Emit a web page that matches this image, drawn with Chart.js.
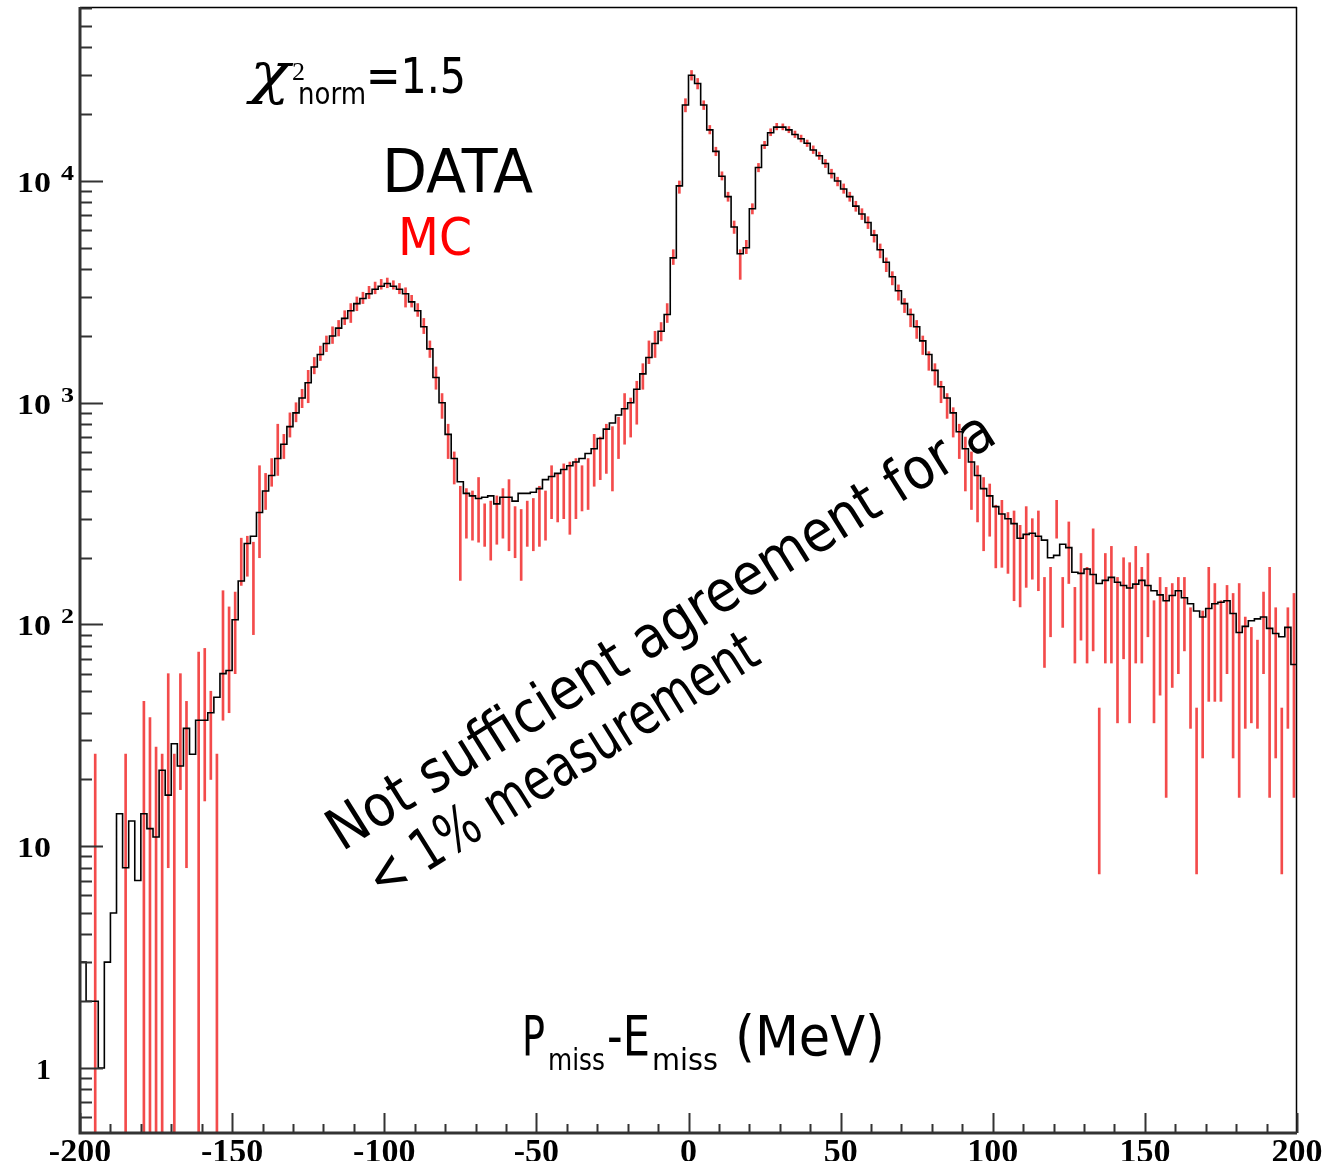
<!DOCTYPE html>
<html>
<head>
<meta charset="utf-8">
<script src="https://cdn.jsdelivr.net/npm/chart.js@4.4.1/dist/chart.umd.min.js"></script>
<style>
  html, body { margin: 0; padding: 0; background: #fff; }
  #wrap { width: 1336px; height: 1161px; }
</style>
</head>
<body>
<div id="wrap"><canvas id="c" width="1336" height="1161"></canvas></div>
<script>
(function () {
  'use strict';

  // histogram binning (MeV)
  var X_MIN = -200;
  var BIN_WIDTH = 2;
  var X_TICK_LABELS = [-200, -150, -100, -50, 0, 50, 100, 150, 200];
  var Y_DECADES = [0, 1, 2, 3, 4];

  // DATA counts per 2 MeV bin, rows of 20 MeV starting at -200
  var DATA_COUNTS = [
    3, 2, 2, 1, 3, 5, 14, 8, 13, 7,
    14, 12, 11, 22, 17, 29, 23, 34, 26, 37,
    37, 40, 47, 60, 62, 105, 157, 232, 250, 320,
    400, 470, 560, 650, 780, 900, 1050, 1230, 1450, 1650,
    1850, 2000, 2170, 2400, 2600, 2800, 2950, 3100, 3250, 3350,
    3450, 3350, 3250, 3100, 2850, 2600, 2200, 1750, 1300, 1000,
    720, 560, 440, 390, 380, 370, 375, 380, 350, 375,
    375, 360, 390, 390, 395, 410, 450, 465, 480, 500,
    520, 540, 560, 590, 620, 690, 760, 810, 880, 940,
    1000, 1150, 1350, 1600, 1850, 2100, 2500, 4500, 9500, 22000,
    30000, 27500, 22000, 17000, 13600, 10500, 8500, 6200, 4700, 5000,
    7500, 11500, 14500, 16500, 17500, 17500, 17000, 16200, 15500, 14800,
    13800, 13000, 12000, 10800, 10000, 9200, 8500, 7700, 7100, 6500,
    5700, 4900, 4300, 3700, 3200, 2800, 2500, 2200, 1900, 1650,
    1400, 1180, 1050, 900, 740, 620, 540, 470, 410, 380,
    340, 315, 300, 285, 245, 255, 258, 250, 240, 200,
    205, 230, 222, 172, 170, 178, 168, 153, 158, 163,
    155, 150, 146, 152, 158, 150, 142, 136, 128, 135,
    142, 132, 124, 115, 108, 118, 124, 126, 128, 112,
    92, 98, 104, 106, 108, 96, 91, 88, 97, 66
  ];

  // MC error bar ends per bin (0.1 = runs off the bottom, null = empty bin)
  var MC_LOW = [
    null, null, 0.1, null, null, null, null, 0.1, null, null,
    0.1, 0.1, 0.1, 0.1, 8, 0.1, 18, 8, null, 0.1,
    16, 20, 0.1, 37, 40, 60, 150, 165, 90, 200,
    330, 420, 470, 560, 700, 820, 950, 1000, 1350, 1550,
    1700, 1850, 2000, 2250, 2300, 2600, 2800, 2950, 3100, 3250,
    3300, 3250, 3100, 2700, 2700, 2450, 2050, 1600, 1150, 850,
    560, 430, 158, 245, 240, 235, 225, 195, 230, 245,
    215, 200, 158, 225, 215, 225, 240, 300, 290, 300,
    255, 300, 325, 330, 420, 450, 480, 400, 560, 650,
    700, 800, 1150, 1500, 1600, 1900, 2300, 4200, 8800, 20500,
    28500, 26000, 21000, 16300, 13000, 10100, 8100, 5800, 3600, 4700,
    7100, 11000, 14000, 16000, 17000, 17000, 16500, 15700, 15000, 14300,
    13300, 12500, 11500, 10300, 9500, 8800, 8100, 7300, 6700, 6100,
    5300, 4500, 3900, 3400, 2900, 2550, 2200, 1950, 1650, 1400,
    1200, 1000, 850, 700, 560, 400, 330, 290, 215, 250,
    180, 181, 170, 128, 120, 147, 160, 142, 64, 88,
    245, 97, 153, 67, 85, 67, 76, 7.5, 67, 67,
    36, 70, 36, 67, 67, 88, 36, 48, 16.6, 52,
    60, 76, 34, 7.5, 25, 45, 45, 45, 60, 25,
    16.6, 34, 36, 34, 60, 16.6, 25, 7.5, 34, 16.6
  ];
  var MC_HIGH = [
    null, null, 26, null, null, null, null, 26, null, null,
    45, 38, 28, 26, 60, 26, 60, 45, null, 75,
    78, 50, 26, 142, 120, 140, 245, 250, 235, 520,
    480, 560, 800, 720, 900, 1000, 1150, 1400, 1600, 1800,
    2000, 2200, 2350, 2600, 2800, 3000, 3150, 3350, 3500, 3600,
    3650, 3550, 3450, 3300, 3050, 2800, 2400, 1900, 1450, 1100,
    800, 600, 420, 410, 400, 460, 350, 360, 380, 410,
    450, 340, 330, 360, 370, 420, 400, 520, 480, 530,
    540, 560, 520, 560, 720, 700, 800, 780, 860, 1100,
    1050, 1250, 1500, 1900, 2100, 2300, 2800, 4900, 10000, 23500,
    31500, 29000, 23000, 17800, 14200, 11000, 8900, 6600, 4900, 5400,
    7900, 12000, 15100, 17200, 18200, 18100, 17600, 16800, 16100, 15300,
    14400, 13500, 12500, 11300, 10400, 9700, 8900, 8100, 7500, 6900,
    6000, 5200, 4500, 3900, 3400, 2950, 2650, 2350, 2000, 1700,
    1500, 1250, 1100, 950, 800, 700, 600, 520, 460, 430,
    345, 363, 320, 325, 280, 340, 300, 325, 163, 181,
    363, 163, 290, 147, 209, 181, 270, 42, 209, 225,
    163, 200, 190, 225, 181, 209, 128, 163, 147, 153,
    163, 163, 119, 42, 115, 181, 153, 128, 150, 138,
    153, 108, 97, 85, 140, 181, 119, 42, 119, 138
  ];

  var SANS = '"DejaVu Sans", sans-serif';
  var SERIF = '"Liberation Serif", serif';

  // step outline: one point at each bin's left edge, plus the closing edge
  var dataPoints = DATA_COUNTS.map(function (v, i) {
    return { x: X_MIN + i * BIN_WIDTH, y: v };
  });
  dataPoints.push({ x: X_MIN + DATA_COUNTS.length * BIN_WIDTH, y: DATA_COUNTS[DATA_COUNTS.length - 1] });

  var mcBars = [];
  MC_LOW.forEach(function (lo, i) {
    if (lo === null || MC_HIGH[i] === null) return;
    mcBars.push({ x: X_MIN + (i + 0.5) * BIN_WIDTH, y: [lo, MC_HIGH[i]] });
  });

  function fitText(ctx, text, x, y, font, width, color) {
    ctx.save();
    ctx.font = font;
    ctx.fillStyle = color || '#000';
    ctx.textBaseline = 'alphabetic';
    ctx.textAlign = 'left';
    var w = ctx.measureText(text).width;
    ctx.translate(x, y);
    ctx.scale(width / w, 1);
    ctx.fillText(text, 0, 0);
    ctx.restore();
  }

  var rootFrame = {
    id: 'rootFrame',
    afterDatasetsDraw: function (chart) {
      var ctx = chart.ctx;
      var a = chart.chartArea;
      var xs = chart.scales.x;
      var ys = chart.scales.y;
      ctx.save();

      // frame
      ctx.strokeStyle = '#000';
      ctx.lineWidth = 1.5;
      ctx.beginPath();
      ctx.moveTo(a.left, a.top + 0.5);
      ctx.lineTo(a.right, a.top + 0.5);
      ctx.moveTo(a.right - 0.5, a.top);
      ctx.lineTo(a.right - 0.5, a.bottom);
      ctx.stroke();
      ctx.strokeStyle = '#333';
      ctx.lineWidth = 3;
      ctx.beginPath();
      ctx.moveTo(a.left, a.top);
      ctx.lineTo(a.left, a.bottom);
      ctx.lineTo(a.right, a.bottom);
      ctx.stroke();

      // y ticks (inside, pointing right)
      ctx.lineWidth = 2;
      ctx.beginPath();
      for (var d = -1; d <= 4; d++) {
        for (var m = 1; m <= 9; m++) {
          var v = m * Math.pow(10, d);
          if (v < ys.min || v > ys.max) continue;
          var py = Math.round(ys.getPixelForValue(v)) + 0.5;
          var len = m === 1 ? 23 : 12;
          ctx.moveTo(a.left, py);
          ctx.lineTo(a.left + len, py);
        }
      }
      // x ticks (pointing up)
      for (var t = X_MIN; t <= 200; t += 10) {
        var px = Math.round(xs.getPixelForValue(t)) + 0.5;
        var tl = t % 50 === 0 ? 20 : 9;
        ctx.moveTo(px, a.bottom);
        ctx.lineTo(px, a.bottom - tl);
      }
      ctx.stroke();

      // y labels: 1, 10, 10^2 ...
      Y_DECADES.forEach(function (dd) {
        var py = ys.getPixelForValue(Math.pow(10, dd));
        if (dd === 0) {
          fitText(ctx, '1', 36, py + 11, 'bold 30px ' + SERIF, 15);
        } else {
          fitText(ctx, '10', 17, py + 11, 'bold 30px ' + SERIF, 34);
          if (dd > 1) fitText(ctx, String(dd), 61, py - 1, 'bold 21px ' + SERIF, 13);
        }
      });

      // chi2 label
      fitText(ctx, '\u03c7', 250, 92, 'italic 56px "DejaVu Serif", serif', 40);
      fitText(ctx, '2', 292, 80, '26px ' + SERIF, 13);
      fitText(ctx, 'norm', 298, 104, '31px ' + SANS, 68);
      fitText(ctx, '=1.5', 366, 93, '49px ' + SANS, 100);

      fitText(ctx, 'DATA', 382, 192, '60px ' + SANS, 151);
      fitText(ctx, 'MC', 398, 255, '51px ' + SANS, 74, '#ff0000');

      // rotated comment
      ctx.save();
      ctx.translate(342, 852);
      ctx.rotate(-32 * Math.PI / 180);
      fitText(ctx, 'Not sufficient agreement for a', 0, 0, '58px ' + SANS, 775);
      fitText(ctx, '< 1% measurement', 8, 62, '58px ' + SANS, 450);
      ctx.restore();

      // axis title
      fitText(ctx, 'P', 522, 1055, '55px ' + SANS, 23);
      fitText(ctx, 'miss', 548, 1070, '30px ' + SANS, 57);
      fitText(ctx, '-E', 607, 1055, '55px ' + SANS, 43);
      fitText(ctx, 'miss', 652, 1070, '30px ' + SANS, 66);
      fitText(ctx, '(MeV)', 735, 1055, '55px ' + SANS, 150);

      ctx.restore();
    }
  };

  new Chart(document.getElementById('c'), {
    data: {
      datasets: [
        {
          type: 'line',
          label: 'DATA',
          data: dataPoints,
          stepped: 'before',
          borderColor: '#000',
          borderWidth: 1.6,
          pointRadius: 0,
          fill: false,
          order: 0
        },
        {
          type: 'bar',
          label: 'MC',
          data: mcBars,
          backgroundColor: 'rgba(240,30,30,0.8)',
          borderWidth: 0,
          barThickness: 2,
          order: 1
        }
      ]
    },
    options: {
      responsive: false,
      animation: false,
      layout: { padding: { top: 7, right: 39, left: 0, bottom: 0 } },
      plugins: { legend: { display: false }, tooltip: { enabled: false } },
      scales: {
        x: {
          type: 'linear',
          offset: false,
          min: -200,
          max: 200,
          afterBuildTicks: function (s) {
            s.ticks = X_TICK_LABELS.map(function (v) { return { value: v }; });
          },
          afterFit: function (s) { s.height = 28; },
          grid: { display: false, drawTicks: false, offset: false },
          border: { display: false },
          ticks: {
            color: '#000',
            padding: 0,
            maxRotation: 0,
            autoSkip: false,
            font: { family: 'Liberation Serif', size: 34, weight: 'bold' }
          }
        },
        y: {
          type: 'logarithmic',
          min: 0.509,
          max: 60900,
          afterFit: function (s) { s.width = 80; },
          grid: { display: false, drawTicks: false },
          border: { display: false },
          ticks: { display: false }
        }
      }
    },
    plugins: [rootFrame]
  });
})();
</script>
</body>
</html>
